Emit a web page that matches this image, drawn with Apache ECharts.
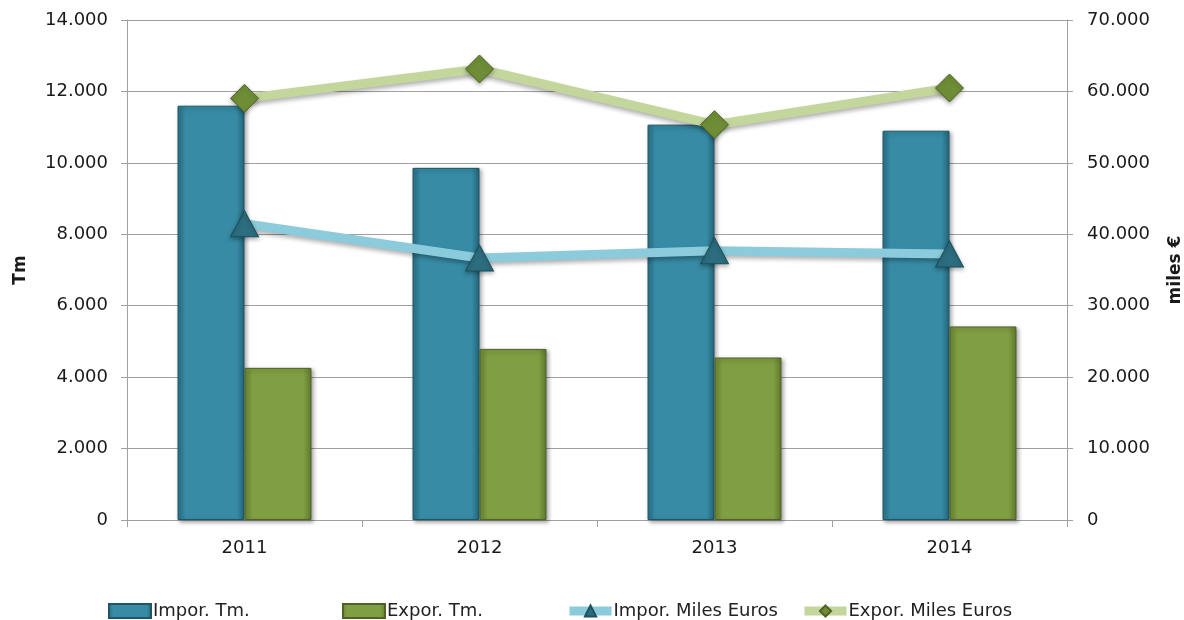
<!DOCTYPE html>
<html>
<head>
<meta charset="utf-8">
<script src="https://cdn.jsdelivr.net/npm/echarts@6/dist/echarts.min.js"></script>
<style>
html,body{margin:0;padding:0;background:#fff;overflow:hidden;}
#chart{width:1184px;height:620px;}
</style>
</head>
<body>
<div id="chart"></div>
<script>
const categories = ['2011', '2012', '2013', '2014'];
const imporTm = [11600, 9860, 11070, 10900];
const exporTm = [4260, 4790, 4550, 5420];
const imporEuros = [41480, 36680, 37700, 37240];
const exporEuros = [59030, 63140, 55340, 60480];
const seriesNames = ['Impor. Tm.', 'Expor. Tm.', 'Impor. Miles Euros', 'Expor. Miles Euros'];

function fmt(v) {
  return String(v).replace(/\B(?=(\d{3})+(?!\d))/g, '.');
}

const FONT = 'DejaVu Sans';
const chart = echarts.init(document.getElementById('chart'), null, {renderer: 'canvas', width: 1184, height: 620});

function barGrad(edge, mid, edge2) {
  return new echarts.graphic.LinearGradient(0, 0, 1, 0, [
    {offset: 0, color: edge},
    {offset: 0.12, color: mid},
    {offset: 0.88, color: mid},
    {offset: 1, color: edge2}
  ]);
}

const legendLefts = [108, 342, 565, 800];
const legendIcons = ['rect', 'rect', null, null];

chart.setOption({
  animation: false,
  backgroundColor: '#ffffff',
  textStyle: {fontFamily: FONT},
  grid: {left: 127, right: 117, top: 20, bottom: 100, containLabel: false, outerBoundsMode: 'none'},
  legend: seriesNames.map((n, i) => {
    const l = {
      data: [n],
      left: legendLefts[i],
      top: 602,
      padding: 0,
      itemWidth: 42,
      itemHeight: 14,
      itemGap: 0,
      textStyle: {fontFamily: FONT, fontSize: 18, color: '#222', padding: [0, 0, 0, -3]}
    };
    if (legendIcons[i]) l.icon = legendIcons[i];
    else l.lineStyle = {width: 9};
    return l;
  }),
  xAxis: {
    type: 'category',
    data: categories,
    axisLine: {show: true, lineStyle: {color: '#A0A0A0', width: 1}},
    axisTick: {show: true, length: 7, lineStyle: {color: '#A0A0A0'}},
    axisLabel: {fontFamily: FONT, fontSize: 18, color: '#1a1a1a', margin: 19}
  },
  yAxis: [
    {
      type: 'value', min: 0, max: 14000, interval: 2000,
      name: 'Tm', nameLocation: 'middle', nameGap: 98, nameRotate: 90,
      nameTextStyle: {fontFamily: FONT, fontSize: 17, fontWeight: 'bold', color: '#1a1a1a'},
      axisLine: {show: true, lineStyle: {color: '#A0A0A0'}},
      axisTick: {show: true, length: 6, lineStyle: {color: '#A0A0A0'}},
      axisLabel: {fontFamily: FONT, fontSize: 18, color: '#1a1a1a', margin: 19, formatter: fmt},
      splitLine: {show: true, lineStyle: {color: '#A0A0A0', width: 1}}
    },
    {
      type: 'value', min: 0, max: 70000, interval: 10000, position: 'right',
      name: 'miles €', nameLocation: 'middle', nameGap: 100, nameRotate: 90,
      nameTextStyle: {fontFamily: FONT, fontSize: 17, fontWeight: 'bold', color: '#1a1a1a'},
      axisLine: {show: true, lineStyle: {color: '#A0A0A0'}},
      axisTick: {show: true, length: 6, lineStyle: {color: '#A0A0A0'}},
      axisLabel: {fontFamily: FONT, fontSize: 18, color: '#1a1a1a', margin: 20, formatter: fmt},
      splitLine: {show: false}
    }
  ],
  series: [
    {
      name: seriesNames[0], type: 'bar', yAxisIndex: 0, data: imporTm,
      barWidth: '28.5%', barGap: '0%',
      itemStyle: {
        color: barGrad('#2A7289', '#378BA5', '#24657A'),
        borderColor: '#1F5566', borderWidth: 1,
        shadowColor: 'rgba(0,0,0,0.35)', shadowBlur: 4, shadowOffsetX: 2, shadowOffsetY: 2
      }
    },
    {
      name: seriesNames[1], type: 'bar', yAxisIndex: 0, data: exporTm,
      barWidth: '28.5%', barGap: '0%',
      itemStyle: {
        color: barGrad('#6B8836', '#809E42', '#5F7A2F'),
        borderColor: '#4F6228', borderWidth: 1,
        shadowColor: 'rgba(0,0,0,0.35)', shadowBlur: 4, shadowOffsetX: 2, shadowOffsetY: 2
      }
    },
    {
      name: seriesNames[2], type: 'line', yAxisIndex: 1, data: imporEuros,
      symbol: 'triangle', symbolSize: [28, 26],
      lineStyle: {color: '#8CCBDB', width: 9, shadowColor: 'rgba(0,0,0,0.3)', shadowBlur: 4, shadowOffsetY: 3},
      itemStyle: {color: '#2C6E80', borderColor: '#1D4F5C', borderWidth: 1,
        shadowColor: 'rgba(0,0,0,0.3)', shadowBlur: 4, shadowOffsetY: 2},
      z: 3
    },
    {
      name: seriesNames[3], type: 'line', yAxisIndex: 1, data: exporEuros,
      symbol: 'diamond', symbolSize: [28, 28],
      lineStyle: {color: '#C3D69B', width: 9, shadowColor: 'rgba(0,0,0,0.3)', shadowBlur: 4, shadowOffsetY: 3},
      itemStyle: {color: '#6F8D36', borderColor: '#4F6228', borderWidth: 1,
        shadowColor: 'rgba(0,0,0,0.3)', shadowBlur: 4, shadowOffsetY: 2},
      z: 3
    }
  ]
});
</script>
</body>
</html>
